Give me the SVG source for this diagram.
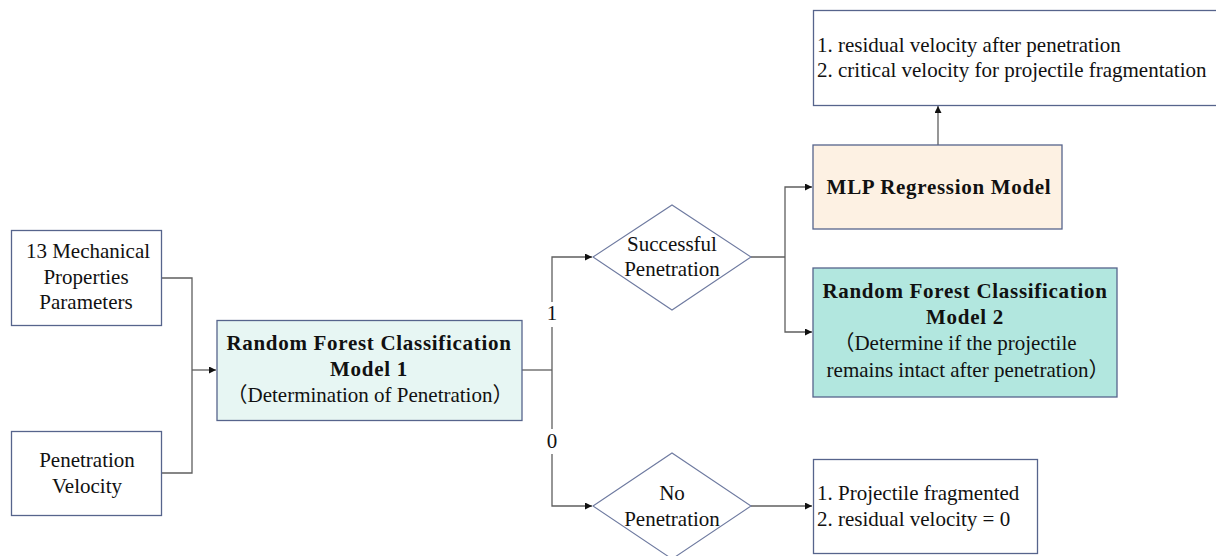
<svg xmlns="http://www.w3.org/2000/svg" width="1216" height="556" viewBox="0 0 1216 556">
<defs>
<style>
.box{stroke:#56648c;stroke-width:1.3}
.dia{fill:#fff;stroke:#6e7aa0;stroke-width:1.1}
.t{font-family:'Liberation Serif','Times New Roman',serif;font-size:21px;fill:#111}
.cj{font-family:'Noto Sans CJK SC',sans-serif}
.b{font-weight:bold;letter-spacing:0.7px}
.c{text-anchor:middle}
.ln{fill:none;stroke:#5f5f5f;stroke-width:1.3}
</style>
<marker id="ah" viewBox="0 0 10 10" refX="10" refY="5" markerWidth="8" markerHeight="7" markerUnits="userSpaceOnUse" orient="auto">
<path d="M0,0 L10,5 L0,10 z" fill="#111"/>
</marker>
</defs>
<rect width="1216" height="556" fill="#fff"/>

<g id="connectors">
<polyline class="ln" points="161,278 192,278 192,473 161,473"/>
<line class="ln" x1="192" y1="370" x2="216" y2="370" marker-end="url(#ah)"/>
<line class="ln" x1="522" y1="370" x2="552" y2="370"/>
<polyline class="ln" points="552,302 552,257 592,257" marker-end="url(#ah)"/>
<line class="ln" x1="552" y1="327" x2="552" y2="429"/>
<polyline class="ln" points="552,454 552,506 592,506" marker-end="url(#ah)"/>
<line class="ln" x1="751" y1="257" x2="785" y2="257"/>
<polyline class="ln" points="785,257 785,187 812,187" marker-end="url(#ah)"/>
<polyline class="ln" points="785,257 785,332 812,332" marker-end="url(#ah)"/>
<line class="ln" x1="751" y1="506" x2="812" y2="506" marker-end="url(#ah)"/>
<line class="ln" x1="938" y1="145" x2="938" y2="106" marker-end="url(#ah)"/>
<text class="t c" x="552" y="320">1</text>
<text class="t c" x="552" y="448">0</text>
</g>

<g id="mech">
<rect class="box" x="11.5" y="230.5" width="150" height="95" fill="#fff"/>
<text class="t c" x="88" y="258">13 Mechanical</text>
<text class="t c" x="86" y="284">Properties</text>
<text class="t c" x="86" y="309">Parameters</text>
</g>

<g id="velocity">
<rect class="box" x="11.5" y="431.5" width="150" height="84" fill="#fff"/>
<text class="t c" x="87" y="467">Penetration</text>
<text class="t c" x="87" y="493">Velocity</text>
</g>

<g id="rf1">
<rect class="box" x="217" y="320.5" width="305" height="100" fill="#e7f6f3"/>
<text class="t b c" x="369" y="350">Random Forest Classification</text>
<text class="t b c" x="369" y="376">Model 1</text>
<text class="t c" x="370" y="402"><tspan class="cj">（</tspan>Determination of Penetration<tspan class="cj">）</tspan></text>
</g>

<g id="success">
<polygon class="dia" points="593,257 672,205 751,257 672,310"/>
<text class="t c" x="672" y="251">Successful</text>
<text class="t c" x="672" y="276">Penetration</text>
</g>

<g id="nopen">
<polygon class="dia" points="593,506 672,453 751,506 672,559"/>
<text class="t c" x="672" y="500">No</text>
<text class="t c" x="672" y="526">Penetration</text>
</g>

<g id="mlp">
<rect class="box" x="813" y="145" width="249" height="84" fill="#fdf1e3"/>
<text class="t b c" x="939" y="194">MLP Regression Model</text>
</g>

<g id="rf2">
<rect class="box" x="813" y="268" width="304" height="129" fill="#b2e7df"/>
<text class="t b c" x="965" y="298">Random Forest Classification</text>
<text class="t b c" x="965" y="324">Model 2</text>
<text class="t c" x="955" y="350"><tspan class="cj">（</tspan>Determine if the projectile</text>
<text class="t c" x="968" y="377">remains intact after penetration<tspan class="cj">）</tspan></text>
</g>

<g id="outputs">
<rect class="box" x="813.5" y="10.5" width="420" height="95" fill="#fff"/>
<text class="t" x="817" y="52">1. residual velocity after penetration</text>
<text class="t" x="817" y="77">2. critical velocity for projectile fragmentation</text>
</g>

<g id="fragmented">
<rect class="box" x="813.5" y="459.5" width="224" height="94" fill="#fff"/>
<text class="t" x="817" y="500">1. Projectile fragmented</text>
<text class="t" x="817" y="526">2. residual velocity = 0</text>
</g>
</svg>
